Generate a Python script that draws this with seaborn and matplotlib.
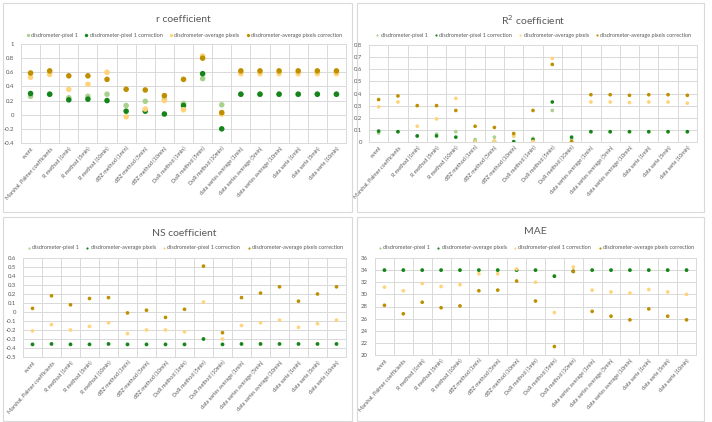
import numpy as np
import pandas as pd
import matplotlib
matplotlib.use("Agg")
import matplotlib.pyplot as plt
from matplotlib.patches import Rectangle
from matplotlib.ticker import MultipleLocator, FuncFormatter
import seaborn as sns

sns.set_style("white")
plt.rcParams["font.family"] = ["Lato", "DejaVu Sans"]

categories = ["event", "Marshal, Palmer coefficients", "R method (1min)", "R method (5min)",
              "R method (10min)", "dBZ method (1min)", "dBZ method (5min)", "dBZ method (10min)",
              "DoR method (1min)", "DoR method (5min)", "DoR method (10min)",
              "data series average (1min)", "data series average (5min)",
              "data series average (10min)", "data serie (1min)", "data serie (5min)",
              "data serie (10min)"]

# r coefficient
r_pix1 = [0.26, 0.29, 0.24, 0.26, 0.29, 0.13, 0.19, 0.22, 0.16, 0.51, 0.14, 0.29, 0.29, 0.29, 0.29, 0.29, 0.29]
r_pix1_corr = [0.30, 0.29, 0.21, 0.22, 0.20, 0.05, 0.05, 0.01, 0.13, 0.58, -0.20, 0.29, 0.29, 0.29, 0.29, 0.29, 0.29]
r_avg = [0.53, 0.57, 0.36, 0.43, 0.60, -0.03, 0.08, 0.20, 0.07, 0.83, 0.01, 0.58, 0.58, 0.58, 0.58, 0.58, 0.58]
r_avg_corr = [0.59, 0.62, 0.55, 0.55, 0.50, 0.36, 0.35, 0.27, 0.50, 0.80, 0.03, 0.62, 0.62, 0.62, 0.62, 0.62, 0.62]

# R2 coefficient
r2_pix1 = [0.075, 0.085, 0.05, 0.065, 0.085, 0.02, 0.04, 0.05, 0.03, 0.26, 0.02, 0.085, 0.085, 0.085, 0.085, 0.085, 0.085]
r2_pix1_corr = [0.09, 0.085, 0.05, 0.05, 0.04, 0.002, 0.003, 0.003, 0.02, 0.33, 0.04, 0.085, 0.085, 0.085, 0.085, 0.085, 0.085]
r2_avg = [0.29, 0.33, 0.13, 0.19, 0.36, 0.003, 0.01, 0.05, 0.005, 0.69, 0.00, 0.33, 0.33, 0.325, 0.33, 0.33, 0.32]
r2_avg_corr = [0.35, 0.38, 0.30, 0.30, 0.26, 0.13, 0.12, 0.07, 0.26, 0.64, 0.003, 0.39, 0.39, 0.385, 0.39, 0.39, 0.385]

# NS coefficient
ns_pix1 = [-0.36, -0.355, -0.36, -0.36, -0.355, -0.36, -0.36, -0.36, -0.36, -0.30, -0.36, -0.355, -0.355, -0.355, -0.355, -0.355, -0.355]
ns_avg = [-0.36, -0.355, -0.36, -0.36, -0.355, -0.36, -0.36, -0.36, -0.36, -0.30, -0.36, -0.355, -0.355, -0.355, -0.355, -0.355, -0.355]
ns_pix1_corr = [-0.21, -0.14, -0.20, -0.16, -0.12, -0.24, -0.20, -0.20, -0.22, 0.11, -0.30, -0.15, -0.12, -0.09, -0.17, -0.13, -0.09]
ns_avg_corr = [0.04, 0.18, 0.08, 0.15, 0.16, -0.01, 0.02, -0.06, 0.03, 0.51, -0.23, 0.16, 0.21, 0.28, 0.12, 0.20, 0.28]

# MAE
mae_pix1 = [34.0, 34.0, 34.0, 34.0, 34.0, 34.0, 34.0, 34.0, 34.0, 33.0, 33.8, 34.0, 34.0, 34.0, 34.0, 34.0, 34.0]
mae_avg = [34.0, 34.0, 34.0, 34.0, 34.0, 34.0, 34.0, 34.0, 34.0, 33.0, 33.8, 34.0, 34.0, 34.0, 34.0, 34.0, 34.0]
mae_pix1_corr = [31.2, 30.6, 31.8, 31.3, 31.6, 33.4, 33.4, 34.2, 32.0, 27.0, 34.5, 30.7, 30.4, 30.2, 30.8, 30.4, 30.0]
mae_avg_corr = [28.2, 26.8, 28.7, 27.8, 28.1, 30.6, 30.7, 32.2, 28.9, 21.4, 33.8, 27.2, 26.4, 25.8, 27.6, 26.4, 25.8]

colors = ["#a9d18e", "#15841a", "#ffd37a", "#bf8f00"]
grid_c = "#d9d9d9"
text_c = "#595959"

W, H = 712, 422
fig = plt.figure(figsize=(W / 100, H / 100), dpi=100)


def frac(x0, y0, x1, y1):
    return [x0 / W, 1 - y1 / H, (x1 - x0) / W, (y1 - y0) / H]


# panel frames
for box in [(3, 3, 352, 212), (357, 3, 704, 212), (3, 217, 352, 421), (357, 217, 704, 421)]:
    fig.patches.append(Rectangle((box[0] / W, 1 - box[3] / H), (box[2] - box[0]) / W,
                                 (box[3] - box[1]) / H, transform=fig.transFigure,
                                 fill=False, edgecolor=grid_c, linewidth=0.8))

tick_fmt = FuncFormatter(lambda v, p: f"{round(v, 3):g}" if abs(v) > 1e-9 else "0")


def panel(rect, title, title_y, names, series, ylim, step, msize, leg_y):
    ax = fig.add_axes(frac(*rect))
    df = pd.DataFrame({"category": categories})
    for n, s in zip(names, series):
        df[n] = s
    df["x"] = np.arange(len(categories))
    long = df.melt(id_vars=["category", "x"], var_name="series", value_name="value")
    sns.scatterplot(data=long, x="x", y="value", hue="series", hue_order=names,
                    palette=colors, s=msize, linewidth=0, ax=ax, legend=True)
    ax.set_xlim(-0.5, len(categories) - 0.5)
    ax.set_ylim(*ylim)
    ax.yaxis.set_major_locator(MultipleLocator(step))
    ax.yaxis.set_major_formatter(tick_fmt)
    ax.set_xticks(np.arange(len(categories)))
    ax.set_xticklabels(categories, rotation=48, ha="right", rotation_mode="anchor",
                       fontsize=4.0, color=text_c)
    ax.set_xticks(np.arange(len(categories) + 1) - 0.5, minor=True)
    ax.grid(True, which="minor", axis="x", color=grid_c, linewidth=0.7)
    ax.grid(True, which="major", axis="y", color=grid_c, linewidth=0.7)
    ax.tick_params(axis="y", labelsize=4.3, labelcolor=text_c, length=0, pad=5)
    ax.tick_params(axis="x", which="both", length=0, pad=2)
    ax.set_xlabel("")
    ax.set_ylabel("")
    for sp in ax.spines.values():
        sp.set_color(grid_c)
        sp.set_linewidth(0.7)
    cx = (rect[0] + rect[2]) / 2 / W
    fig.text(cx, 1 - title_y / H, title, ha="center", va="center", fontsize=7.5, color=text_c)
    handles, labels = ax.get_legend_handles_labels()
    ax.legend(handles, labels, loc="center", bbox_to_anchor=(cx, 1 - leg_y / H),
              bbox_transform=fig.transFigure, ncol=4, frameon=False, fontsize=4,
              labelcolor=text_c, handletextpad=0.1, columnspacing=1.0, markerscale=0.6,
              handlelength=1.0)
    return ax


panel((21, 44, 346, 143), "r coefficient", 19,
      ["disdrometer-pixel 1", "disdrometer-pixel 1 correction",
       "disdrometer-average pixels", "disdrometer-average pixels correction"],
      [r_pix1, r_pix1_corr, r_avg, r_avg_corr], (-0.4, 1.0), 0.2, 16, 35)

panel((369, 45, 697, 142), "R$^2$ coefficient", 20,
      ["disdrometer-pixel 1", "disdrometer-pixel 1 correction",
       "disdrometer-average pixels", "disdrometer-average pixels correction"],
      [r2_pix1, r2_pix1_corr, r2_avg, r2_avg_corr], (0, 0.8), 0.1, 7, 35)

panel((23, 258, 346, 357), "NS coefficient", 233,
      ["disdrometer-pixel 1", "disdrometer-average pixels",
       "disdrometer-pixel 1 correction", "disdrometer-average pixels correction"],
      [ns_pix1, ns_avg, ns_pix1_corr, ns_avg_corr], (-0.5, 0.6), 0.1, 7, 248)

panel((375, 258, 696, 355), "MAE", 232,
      ["disdrometer-pixel 1", "disdrometer-average pixels",
       "disdrometer-pixel 1 correction", "disdrometer-average pixels correction"],
      [mae_pix1, mae_avg, mae_pix1_corr, mae_avg_corr], (20, 36), 2, 7, 248)

fig.savefig("out.png", dpi=100)
